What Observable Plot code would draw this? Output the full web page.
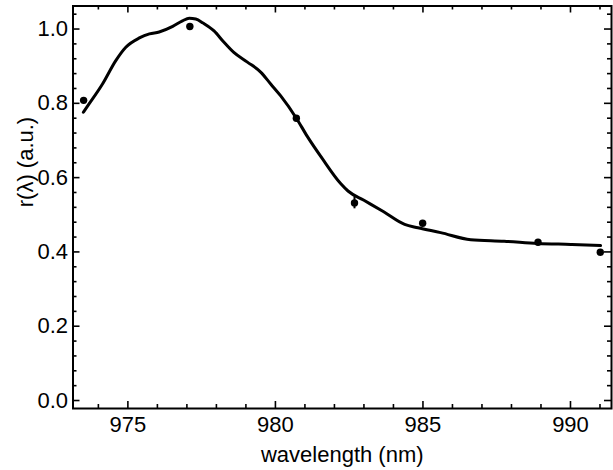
<!DOCTYPE html>
<html>
<head>
<meta charset="utf-8">
<script src="https://cdn.jsdelivr.net/npm/d3@7"></script>
<script src="https://cdn.jsdelivr.net/npm/@observablehq/plot@0.6"></script>
<style>
  html, body { margin: 0; padding: 0; background: #fff; }
  #chart svg { display: block; }
</style>
</head>
<body>
<div id="chart"></div>
<script>
// Measured points (wavelength nm, r(λ), error)
const pointWl  = [973.50, 977.10, 980.71, 982.68, 984.99, 988.90, 991.01];
const pointR   = [0.808, 1.007, 0.760, 0.532, 0.477, 0.426, 0.399];
const pointErr = [0.004, 0.004, 0.004, 0.016, 0.004, 0.004, 0.004];

// Model curve
const curveWl = [973.49, 973.69, 974.14, 974.59, 974.93, 975.39, 975.73, 976.06, 976.52, 976.85, 977.08, 977.30, 977.55, 977.92, 978.25, 978.59, 979.05, 979.50, 979.84, 980.18, 980.71, 981.08, 981.59, 982.21, 982.46, 983.00, 983.67, 984.38, 984.83, 985.60, 986.62, 987.75, 988.88, 990.01, 991.02];
const curveR  = [0.776, 0.799, 0.852, 0.915, 0.951, 0.976, 0.987, 0.992, 1.007, 1.022, 1.029, 1.027, 1.016, 0.995, 0.965, 0.937, 0.911, 0.884, 0.852, 0.820, 0.760, 0.711, 0.651, 0.584, 0.564, 0.539, 0.508, 0.474, 0.465, 0.452, 0.433, 0.429, 0.423, 0.420, 0.417];

// Axis ticks
const xMajor = [975, 980, 985, 990];
const xMinor = [974, 976, 977, 978, 979, 981, 982, 983, 984, 986, 987, 988, 989, 991];
const yMajor = [0.0, 0.2, 0.4, 0.6, 0.8, 1.0];
const yMinor = [0.04, 0.08, 0.12, 0.16, 0.24, 0.28, 0.32, 0.36, 0.44, 0.48, 0.52, 0.56, 0.64, 0.68, 0.72, 0.76, 0.84, 0.88, 0.92, 0.96, 1.04];

const xDomain = [973.14, 991.39];
const yDomain = [-0.0215, 1.062];

const points = pointWl.map((w, i) => ({w, r: pointR[i], lo: pointR[i] - pointErr[i], hi: pointR[i] + pointErr[i]}));
const curve = curveWl.map((w, i) => ({w, r: curveR[i]}));

const W = 613, H = 470;
const mL = 72.5, mR = 2, mT = 5.5, mB = 62;
const plotW = W - mL - mR, plotH = H - mT - mB;
const majorLen = 7, minorLen = 4;

const chart = Plot.plot({
  width: W,
  height: H,
  marginLeft: mL,
  marginRight: mR,
  marginTop: mT,
  marginBottom: mB,
  style: {fontFamily: "'Liberation Sans', Arial, Helvetica, sans-serif", fontSize: "22px", color: "#000", background: "#fff"},
  x: {domain: xDomain},
  y: {domain: yDomain},
  marks: [
    // tick labels
    Plot.axisX(xMajor, {anchor: "bottom", tickSize: 0, tickPadding: 8, fontSize: 22, label: null}),
    Plot.axisY(yMajor, {anchor: "left", tickSize: 0, tickPadding: 5, fontSize: 22, label: null, tickFormat: d3.format(".1f")}),
    // inward ticks: bottom/top
    Plot.ruleX(xMajor, {x: d => d, insetTop: plotH - majorLen, strokeWidth: 1.6}),
    Plot.ruleX(xMajor, {x: d => d, insetBottom: plotH - majorLen, strokeWidth: 1.6}),
    Plot.ruleX(xMinor, {x: d => d, insetTop: plotH - minorLen, strokeWidth: 1.6}),
    Plot.ruleX(xMinor, {x: d => d, insetBottom: plotH - minorLen, strokeWidth: 1.6}),
    // inward ticks: left/right
    Plot.ruleY(yMajor, {y: d => d, insetRight: plotW - majorLen, strokeWidth: 1.6}),
    Plot.ruleY(yMajor, {y: d => d, insetLeft: plotW - majorLen, strokeWidth: 1.6}),
    Plot.ruleY(yMinor, {y: d => d, insetRight: plotW - minorLen, strokeWidth: 1.6}),
    Plot.ruleY(yMinor, {y: d => d, insetLeft: plotW - minorLen, strokeWidth: 1.6}),
    // axis titles
    Plot.text(["wavelength (nm)"], {frameAnchor: "bottom", dy: 46, fontSize: 22, lineAnchor: "middle", fill: "#000"}),
    Plot.text(["r(λ) (a.u.)"], {frameAnchor: "left", dx: -47, rotate: -90, fontSize: 22, lineAnchor: "middle", fill: "#000"}),
    // data
    Plot.line(curve, {x: "w", y: "r", stroke: "#000", strokeWidth: 3, curve: "monotone-x"}),
    Plot.ruleX(points, {x: "w", y1: "lo", y2: "hi", stroke: "#000", strokeWidth: 2}),
    Plot.dot(points, {x: "w", y: "r", r: 3.7, fill: "#000", stroke: "none"}),
    Plot.frame({stroke: "#000", strokeWidth: 2})
  ]
});
document.getElementById("chart").appendChild(chart);
</script>
</body>
</html>
